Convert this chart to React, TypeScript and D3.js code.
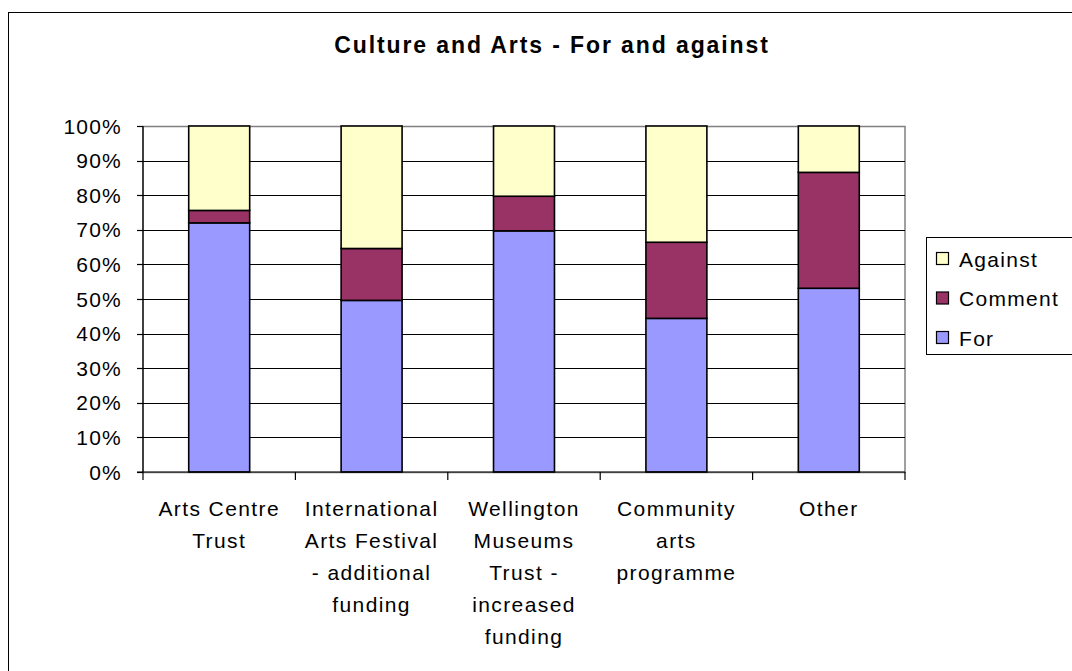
import React from "react";
import * as d3 from "d3";

const categories = [
  "Arts Centre Trust",
  "International Arts Festival - additional funding",
  "Wellington Museums Trust - increased funding",
  "Community arts programme",
  "Other",
];
const categoryLines = [
  ["Arts Centre", "Trust"],
  ["International", "Arts Festival", "- additional", "funding"],
  ["Wellington", "Museums", "Trust -", "increased", "funding"],
  ["Community", "arts", "programme"],
  ["Other"],
];
const forValues = [72.0, 49.6, 69.7, 44.4, 53.1];
const commentValues = [3.6, 15.0, 10.0, 22.0, 33.5];
const againstValues = [24.4, 35.4, 20.3, 33.6, 13.4];
const seriesNames = ["For", "Comment", "Against"];
const seriesColors = ["#9999FF", "#993366", "#FFFFCC"];
const yTicks = [0, 10, 20, 30, 40, 50, 60, 70, 80, 90, 100];
const title = "Culture and Arts - For and against";

const FONT = "'Liberation Sans', Arial, Helvetica, sans-serif";

export default function App() {
  const left = 143, right = 905, top = 126, bottom = 472;
  const x = d3.scaleBand<string>().domain(categories).range([left, right]).paddingInner(0.6).paddingOuter(0.3);
  const band = d3.scaleBand<string>().domain(categories).range([left, right]);
  const y = d3.scaleLinear().domain([0, 100]).range([bottom, top]);

  const rows = categories.map((c, i) => ({
    cat: c,
    For: forValues[i],
    Comment: commentValues[i],
    Against: againstValues[i],
  }));
  const stack = d3.stack<any>().keys(seriesNames).offset(d3.stackOffsetExpand);
  const stacked = stack(rows);

  const legendItems = [
    { name: "Against", color: seriesColors[2] },
    { name: "Comment", color: seriesColors[1] },
    { name: "For", color: seriesColors[0] },
  ];

  return (
    <svg width={1072} height={671} style={{ position: "absolute", left: 0, top: 0, background: "#fff" }}>
      <rect x={8.5} y={12.5} width={1200} height={800} fill="#fff" stroke="#000" strokeWidth={1} />
      <text x={552} y={53} textAnchor="middle" fontFamily={FONT} fontWeight="bold" fontSize={23} letterSpacing={1.9} fill="#000">
        {title}
      </text>
      {/* plot area border */}
      <rect x={left} y={top + 0.5} width={right - left} height={bottom - top} fill="#fff" stroke="#808080" strokeWidth={1.5} />
      {/* gridlines */}
      {yTicks.filter((t) => t > 0 && t < 100).map((t) => (
        <line key={t} x1={left} x2={right} y1={Math.round(y(t)) + 0.5} y2={Math.round(y(t)) + 0.5} stroke="#000" strokeWidth={1.2} />
      ))}
      {/* bars */}
      {stacked.map((s, si) =>
        s.map((d, i) => {
          const cat = categories[i];
          const y0 = y(d[0] * 100);
          const y1 = y(d[1] * 100);
          return (
            <rect key={si + "-" + i} x={x(cat)} y={y1} width={x.bandwidth()} height={y0 - y1}
              fill={seriesColors[si]} stroke="#000" strokeWidth={1.6} />
          );
        })
      )}
      {/* axes */}
      <line x1={left} x2={left} y1={top} y2={bottom} stroke="#000" strokeWidth={1.2} />
      <line x1={left - 6} x2={right} y1={bottom} y2={bottom} stroke="#000" strokeWidth={1.2} />
      {yTicks.map((t) => (
        <g key={t}>
          <line x1={left - 6} x2={left} y1={Math.round(y(t)) + 0.5} y2={Math.round(y(t)) + 0.5} stroke="#000" strokeWidth={1.2} />
          <text x={122} y={y(t) + 7.5} textAnchor="end" fontFamily={FONT} fontSize={21} letterSpacing={1.2} fill="#000">
            {t + "%"}
          </text>
        </g>
      ))}
      {categories.map((c, i) => (
        <line key={"xt" + i} x1={band(c)} x2={band(c)} y1={bottom} y2={bottom + 8} stroke="#000" strokeWidth={1.2} />
      ))}
      <line x1={right} x2={right} y1={bottom} y2={bottom + 8} stroke="#000" strokeWidth={1.2} />
      {categories.map((c, i) => (
        <text key={"xl" + i} textAnchor="middle" fontFamily={FONT} fontSize={21} letterSpacing={1.4} fill="#000">
          {categoryLines[i].map((ln, j) => (
            <tspan key={j} x={(band(c) as number) + band.bandwidth() / 2} y={516 + j * 32}>{ln}</tspan>
          ))}
        </text>
      ))}
      {/* legend */}
      <rect x={926.5} y={237.5} width={200} height={117} fill="#fff" stroke="#000" strokeWidth={1} />
      {legendItems.map((it, i) => (
        <g key={it.name}>
          <rect x={936.5} y={252.5 + i * 39.5} width={12} height={12} fill={it.color} stroke="#000" strokeWidth={1.2} />
          <text x={959} y={266.5 + i * 39.5} fontFamily={FONT} fontSize={21} letterSpacing={1.3} fill="#000">{it.name}</text>
        </g>
      ))}
    </svg>
  );
}
